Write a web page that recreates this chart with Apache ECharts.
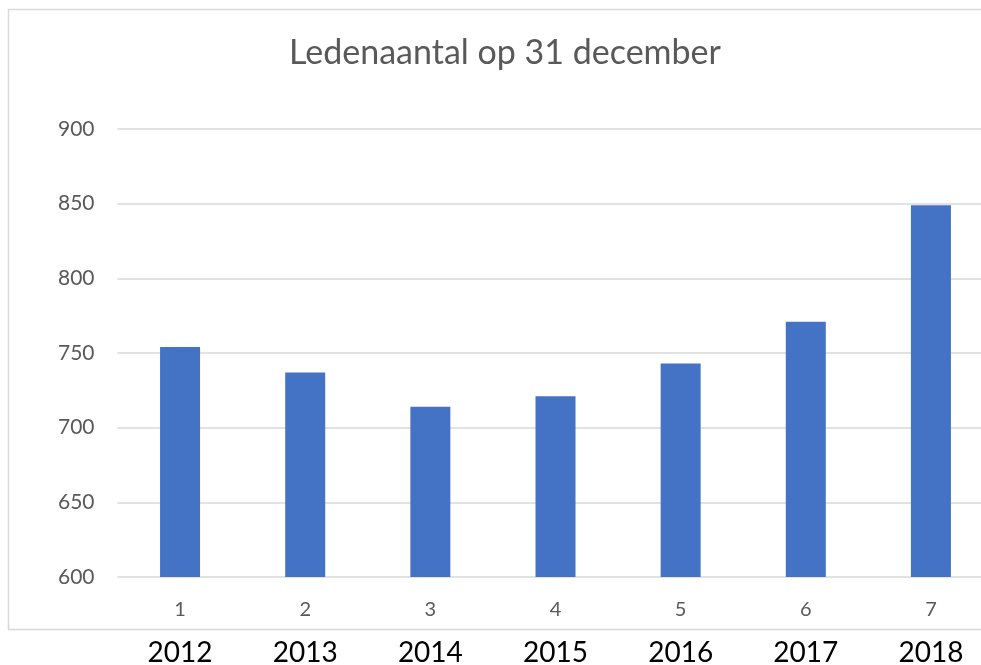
<!DOCTYPE html>
<html>
<head>
<meta charset="utf-8">
<script src="https://cdn.jsdelivr.net/npm/echarts@6/dist/echarts.min.js"></script>
<style>
  html, body { margin: 0; padding: 0; background: #fff; overflow: hidden; }
  #chart { width: 981px; height: 665px; }
</style>
</head>
<body>
<div id="chart"></div>
<script>
// data
const categories = ['1', '2', '3', '4', '5', '6', '7'];
const years = ['2012', '2013', '2014', '2015', '2016', '2017', '2018'];
const members = [754, 737, 714, 721, 743, 771, 849];
const yTicks = { min: 600, max: 900, interval: 50 };

const chart = echarts.init(document.getElementById('chart'));
chart.setOption({
    animation: false,
    textStyle: { fontFamily: 'Lato' },
    title: {
        text: 'Ledenaantal op 31 december',
        left: 500,
        textAlign: 'center',
        top: 31,
        textStyle: { fontFamily: 'Lato', fontSize: 34, fontWeight: 'normal', color: '#595959' }
    },
    // chart frame: top, left and bottom edges (right edge is outside the window)
    graphic: [{
        type: 'polyline',
        z: -10,
        shape: { points: [[1200, 9.5], [8.5, 9.5], [8.5, 629.5], [1200, 629.5]] },
        style: { fill: 'none', stroke: '#d9d9d9', lineWidth: 1.5 }
    }],
    grid: { left: 117.5, width: 876, top: 129, bottom: 88, outerBoundsMode: 'none' },
    xAxis: [
        {
            type: 'category',
            data: categories,
            axisLine: { show: false },
            axisTick: { show: false },
            axisLabel: { margin: 23, fontSize: 20, color: '#595959' }
        },
        {
            type: 'category',
            position: 'bottom',
            data: years,
            axisLine: { show: false },
            axisTick: { show: false },
            axisLabel: { margin: 62, fontSize: 28, color: '#000' }
        }
    ],
    yAxis: {
        type: 'value',
        min: yTicks.min,
        max: yTicks.max,
        interval: yTicks.interval,
        axisLine: { show: false },
        axisTick: { show: false },
        axisLabel: { margin: 23, fontSize: 21, color: '#595959' },
        splitLine: { lineStyle: { color: '#d9d9d9', width: 1.5 } }
    },
    series: [{
        type: 'bar',
        data: members,
        barWidth: 40,
        itemStyle: { color: '#4472C4' }
    }]
});
</script>
</body>
</html>
